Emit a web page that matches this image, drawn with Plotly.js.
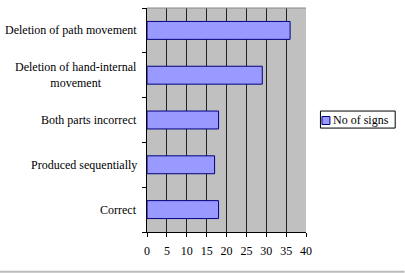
<!DOCTYPE html>
<html>
<head>
<meta charset="utf-8">
<script src="https://cdn.plot.ly/plotly-3.0.1.min.js"></script>
<style>html,body{margin:0;padding:0;background:#fff;}#chart{width:405px;height:273px;}</style>
</head>
<body>
<div id="chart"></div>
<script>
const categories = ["Correct", "Produced sequentially", "Both parts incorrect", "Deletion of hand-internal<br>movement", "Deletion of path movement"];
const values = [18, 17, 18, 29, 36];
const seriesName = "No of signs";
const xTicks = [0, 5, 10, 15, 20, 25, 30, 35, 40];

const font = {family: "'Liberation Serif', 'Times New Roman', Times, serif", size: 12, color: "#000"};

const annotations = categories.map(c => ({
  text: c, x: 0, xref: "paper", y: c, yref: "y",
  xanchor: "right", yanchor: "middle", xshift: -8, align: "center",
  showarrow: false, font: font
}));
// legend label
annotations.push({
  text: seriesName, x: 1.1599, xref: "paper", y: 0.5022, yref: "paper",
  xanchor: "left", yanchor: "middle", showarrow: false, font: font
});

const data = [{
  type: "bar", orientation: "h",
  y: categories, x: values, name: seriesName,
  marker: {color: "#9999FF", line: {color: "#000080", width: 1}},
  showlegend: false
}];

const layout = {
  width: 405, height: 273,
  margin: {l: 147, r: 98.5, t: 8, b: 41, pad: 0, autoexpand: false},
  paper_bgcolor: "#fff", plot_bgcolor: "#C0C0C0",
  font: font,
  bargap: 0.6,
  showlegend: false,
  xaxis: {
    range: [0, 40], tickvals: xTicks, ticktext: xTicks.map(String),
    showgrid: true, gridcolor: "#222", gridwidth: 1,
    showline: true, linecolor: "#000", linewidth: 1,
    ticks: "outside", ticklen: 4, tickcolor: "#000", ticklabelstandoff: 4,
    zeroline: false, tickfont: font, fixedrange: true
  },
  yaxis: {
    type: "category", categoryorder: "array", categoryarray: categories,
    showticklabels: false, tickson: "boundaries",
    ticks: "outside", ticklen: 4, tickcolor: "#000",
    showline: true, linecolor: "#000", linewidth: 1,
    showgrid: false, zeroline: false, fixedrange: true
  },
  annotations: annotations,
  shapes: [
    {type: "line", xref: "paper", yref: "paper", x0: 0, x1: 1, y0: 1, y1: 1, line: {color: "#888", width: 1}},
    {type: "line", xref: "paper", yref: "paper", x0: -0.93, x1: 1.62, y0: -0.178, y1: -0.178, line: {color: "#bbb", width: 2}},
    {type: "rect", xref: "paper", yref: "paper", x0: 1.0909, x1: 1.561, y0: 0.464, y1: 0.540, fillcolor: "#fff", line: {color: "#000", width: 1}},
    {type: "rect", xref: "paper", yref: "paper", x0: 1.1003, x1: 1.1505, y0: 0.4799, y1: 0.5156, fillcolor: "#9999FF", line: {color: "#000080", width: 1}}
  ]
};

Plotly.newPlot("chart", data, layout, {displayModeBar: false, staticPlot: true});
</script>
</body>
</html>
